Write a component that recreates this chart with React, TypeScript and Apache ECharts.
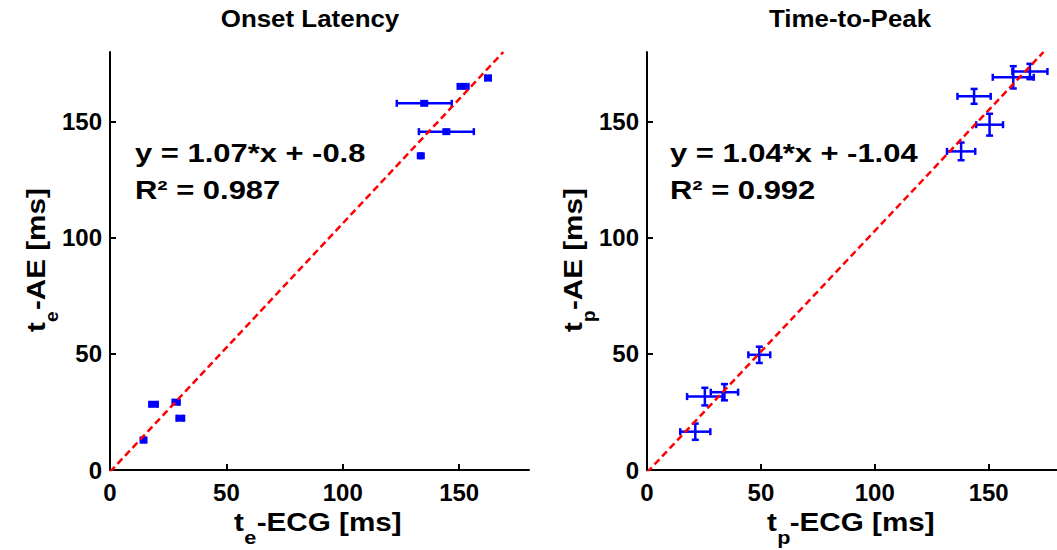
import React, { useEffect, useRef } from "react";
import * as echarts from "echarts";

// ---- Data ----
const onsetEcg = [14.4, 18.7, 28.4, 30.2, 133.5, 135.0, 144.5, 151.7, 162.4];
const onsetAe = [12.9, 28.3, 29.2, 22.3, 135.3, 157.9, 145.7, 165.2, 168.8];
const onsetEcgErr = [0.6, 1.8, 1.5, 1.6, 0.5, 11.8, 11.8, 2.3, 1.0];
const onsetAeErr = [0.6, 0.6, 0.6, 0.6, 0.6, 0.6, 0.6, 0.6, 0.6];

const peakEcg = [21.2, 25.4, 34.0, 49.3, 137.9, 143.6, 150.4, 160.8, 168.1];
const peakAe = [16.5, 31.6, 33.5, 49.6, 137.2, 160.9, 148.7, 169.1, 171.6];
const peakEcgErr = [6.6, 7.8, 6.0, 4.8, 6.2, 7.3, 5.9, 9.0, 7.7];
const peakAeErr = [3.5, 3.8, 3.5, 3.5, 3.8, 3.2, 4.7, 4.8, 3.3];

const onsetFit = { slope: 1.07, intercept: -0.8, r2: "0.987" };
const peakFit = { slope: 1.04, intercept: -1.04, r2: "0.992" };

const axisMax = 180;
const tickInterval = 50;

const FONT = "Liberation Sans, Arial, sans-serif";
const BLUE = "#0000ff";

function makeRenderItem(withSquare: boolean) {
  return (params: any, api: any) => {
    const x = api.value(0);
    const y = api.value(1);
    const dx = api.value(2);
    const dy = api.value(3);
    const c = api.coord([x, y]);
    const l = api.coord([x - dx, y]);
    const r = api.coord([x + dx, y]);
    const t = api.coord([x, y + dy]);
    const b = api.coord([x, y - dy]);
    const cap = 3.5;
    const style = { stroke: BLUE, lineWidth: 2.5, fill: "none" };
    const children: any[] = [
      { type: "line", shape: { x1: l[0], y1: l[1], x2: r[0], y2: r[1] }, style },
      { type: "line", shape: { x1: l[0], y1: l[1] - cap, x2: l[0], y2: l[1] + cap }, style },
      { type: "line", shape: { x1: r[0], y1: r[1] - cap, x2: r[0], y2: r[1] + cap }, style },
      { type: "line", shape: { x1: t[0], y1: t[1], x2: b[0], y2: b[1] }, style },
      { type: "line", shape: { x1: t[0] - cap, y1: t[1], x2: t[0] + cap, y2: t[1] }, style },
      { type: "line", shape: { x1: b[0] - cap, y1: b[1], x2: b[0] + cap, y2: b[1] }, style },
    ];
    if (withSquare) {
      children.push({
        type: "rect",
        shape: { x: c[0] - 4, y: c[1] - 3.5, width: 8, height: 7 },
        style: { fill: BLUE, stroke: "none" },
      });
    }
    return { type: "group", children };
  };
}

function fitLine(fit: { slope: number; intercept: number }) {
  const xEnd = (axisMax - fit.intercept) / fit.slope;
  return [
    [0, fit.intercept],
    [xEnd, fit.slope * xEnd + fit.intercept],
  ];
}

function fitLabel(fit: { slope: number; intercept: number }) {
  return `y = ${fit.slope.toFixed(2)}*x + ${fit.intercept}`;
}

const GRID_TOP = 52;
const GRID_H = 418;
const GRID_W = 419;
const LEFT1 = 110;
const LEFT2 = 647;

function axisTitleX(cx: number, cy: number, sub: string) {
  return {
    type: "group",
    x: cx,
    y: cy,
    scaleX: 1.14,
    children: [
      { type: "text", x: -79, y: 0, style: { text: "t", font: `bold 26px ${FONT}`, fill: "#000", textAlign: "left", textVerticalAlign: "middle" } },
      { type: "text", x: -70, y: 15, style: { text: sub, font: `bold 19px ${FONT}`, fill: "#000", textAlign: "left", textVerticalAlign: "middle" } },
      { type: "text", x: -59, y: 0, style: { text: "-ECG [ms]", font: `bold 26px ${FONT}`, fill: "#000", textAlign: "left", textVerticalAlign: "middle" } },
    ],
  };
}

function axisTitleY(cx: number, cy: number, sub: string) {
  return {
    type: "group",
    x: cx,
    y: cy,
    rotation: Math.PI / 2,
    children: [
      { type: "text", x: -82, y: 0, scaleX: 1.14, style: { text: "t", font: `bold 26px ${FONT}`, fill: "#000", textAlign: "left", textVerticalAlign: "middle" } },
      { type: "text", x: -72, y: 15, style: { text: sub, font: `bold 19px ${FONT}`, fill: "#000", textAlign: "left", textVerticalAlign: "middle" } },
      { type: "text", x: -60, y: 0, scaleX: 1.14, style: { text: "-AE [ms]", font: `bold 26px ${FONT}`, fill: "#000", textAlign: "left", textVerticalAlign: "middle" } },
    ],
  };
}

export default function App() {
  const ref = useRef<HTMLDivElement>(null);
  useEffect(() => {
    if (!ref.current) return;
    const chart = echarts.init(ref.current, undefined, { renderer: "svg" });
    const axisCommon = {
      type: "value",
      min: 0,
      max: axisMax,
      interval: tickInterval,
      splitLine: { show: false },
      axisLine: { show: true, onZero: false, lineStyle: { color: "#000", width: 2 } },
      axisTick: { show: true, inside: true, length: 6, lineStyle: { color: "#000", width: 2 } },
      axisLabel: {
        color: "#000",
        fontFamily: FONT,
        fontWeight: "bold",
        fontSize: 24,
        showMaxLabel: false,
      },
    };
    const textBase = { fill: "#000", font: `bold 26px ${FONT}` };
    chart.setOption({
      animation: false,
      backgroundColor: "#fff",
      grid: [
        { left: LEFT1, top: GRID_TOP, width: GRID_W, height: GRID_H },
        { left: LEFT2, top: GRID_TOP, width: GRID_W, height: GRID_H },
      ],
      xAxis: [
        { ...axisCommon, gridIndex: 0, axisLabel: { ...axisCommon.axisLabel, margin: 10 } },
        { ...axisCommon, gridIndex: 1, axisLabel: { ...axisCommon.axisLabel, margin: 10 } },
      ],
      yAxis: [
        { ...axisCommon, gridIndex: 0, axisLabel: { ...axisCommon.axisLabel, margin: 8 } },
        { ...axisCommon, gridIndex: 1, axisLabel: { ...axisCommon.axisLabel, margin: 8 } },
      ],
      series: [
        {
          type: "line",
          xAxisIndex: 0,
          yAxisIndex: 0,
          data: fitLine(onsetFit),
          symbol: "none",
          lineStyle: { color: "#ff0000", width: 2.5, type: [7, 4] },
          z: 3,
        },
        {
          type: "line",
          xAxisIndex: 1,
          yAxisIndex: 1,
          data: fitLine(peakFit),
          symbol: "none",
          lineStyle: { color: "#ff0000", width: 2.5, type: [7, 4] },
          z: 3,
        },
        {
          type: "custom",
          xAxisIndex: 0,
          yAxisIndex: 0,
          renderItem: makeRenderItem(true),
          data: onsetEcg.map((v, i) => [v, onsetAe[i], onsetEcgErr[i], onsetAeErr[i]]),
          encode: { x: 0, y: 1 },
          z: 2,
        },
        {
          type: "custom",
          xAxisIndex: 1,
          yAxisIndex: 1,
          renderItem: makeRenderItem(false),
          data: peakEcg.map((v, i) => [v, peakAe[i], peakEcgErr[i], peakAeErr[i]]),
          encode: { x: 0, y: 1 },
          z: 2,
        },
      ],
      graphic: [
        { type: "text", x: 310, y: 18, scaleX: 1.08, style: { ...textBase, text: "Onset Latency", font: `bold 24px ${FONT}`, textAlign: "center", textVerticalAlign: "middle" } },
        { type: "text", x: 850, y: 18, scaleX: 1.08, style: { ...textBase, text: "Time-to-Peak", font: `bold 24px ${FONT}`, textAlign: "center", textVerticalAlign: "middle" } },
        { type: "text", x: 135, y: 153, scaleX: 1.19, style: { ...textBase, text: fitLabel(onsetFit), textAlign: "left", textVerticalAlign: "middle" } },
        { type: "text", x: 135, y: 190, scaleX: 1.19, style: { ...textBase, text: `R² = ${onsetFit.r2}`, textAlign: "left", textVerticalAlign: "middle" } },
        { type: "text", x: 670, y: 153, scaleX: 1.19, style: { ...textBase, text: fitLabel(peakFit), textAlign: "left", textVerticalAlign: "middle" } },
        { type: "text", x: 670, y: 190, scaleX: 1.19, style: { ...textBase, text: `R² = ${peakFit.r2}`, textAlign: "left", textVerticalAlign: "middle" } },
        axisTitleX(324, 522, "e"),
        axisTitleX(857, 522, "p"),
        axisTitleY(36, 250, "e"),
        axisTitleY(573, 250, "p"),
      ],
    });
    return () => chart.dispose();
  }, []);
  return (
    <div
      ref={ref}
      style={{ position: "fixed", left: 0, top: 0, width: 1057, height: 550, background: "#fff" }}
    />
  );
}
